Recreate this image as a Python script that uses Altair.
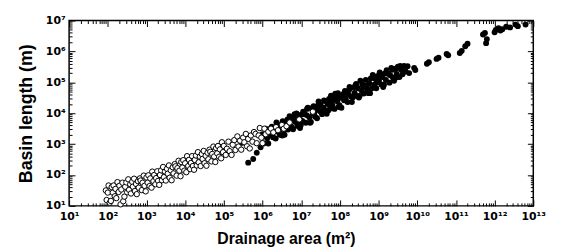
import altair as alt
import numpy as np
import pandas as pd

# log10 values
open_logA = [1.95,1.97,2.0,2.02,2.05,2.08,2.1,2.13,2.15,2.18,2.2,2.22,2.25,2.28,2.3,2.33,2.35,2.38,2.4,2.43,2.45,2.48,2.5,
             2.53,2.55,2.58,2.6,2.63,2.65,2.68,2.7,2.73,2.75,2.78,2.8,2.83,2.85,2.88,2.9,2.93,2.95,2.98,3.0,
             3.03,3.05,3.08,3.1,3.13,3.15,3.18,3.2,3.23,3.25,3.28,3.3,3.33,3.35,3.38,3.4,3.43,3.45,3.48,3.5,
             3.53,3.55,3.58,3.6,3.63,3.65,3.68,3.7,3.73,3.75,3.78,3.8,3.83,3.85,3.88,3.9,3.93,3.95,3.98,4.0,
             4.03,4.05,4.08,4.1,4.13,4.15,4.18,4.2,4.23,4.25,4.28,4.3,4.33,4.35,4.38,4.4,4.43,4.45,4.48,4.5,
             4.53,4.55,4.58,4.6,4.63,4.65,4.68,4.7,4.73,4.75,4.78,4.8,4.83,4.85,4.88,4.9,4.93,4.95,4.98,5.0,
             5.05,5.08,5.12,5.15,5.2,5.23,5.27,5.3,5.35,5.38,5.42,5.45,5.5,5.53,5.57,5.6,
             5.63,5.67,5.7,5.74,5.78,5.82,5.85,5.9,5.93,5.97,6.0,6.05,6.08,
             6.15,6.22,6.28,6.35,6.4,6.5,6.55,6.62,6.7,6.95,7.3]
open_logL = [1.50,1.19,1.43,1.66,1.10,1.16,1.61,1.43,1.66,1.31,1.55,1.25,1.77,1.45,1.65,1.05,1.53,1.75,1.15,1.30,1.62,1.76,1.44,
             1.86,1.52,1.70,1.40,1.78,1.62,1.88,1.48,1.71,1.38,1.80,1.59,1.89,1.82,1.51,1.75,1.98,1.65,1.47,1.92,
             1.75,1.99,1.64,1.89,1.59,2.11,1.80,2.00,1.70,1.90,2.12,1.81,1.68,2.00,2.15,1.83,2.26,1.93,2.11,1.82,
             2.20,2.04,2.31,1.91,2.15,1.83,2.25,2.05,2.35,2.28,1.98,2.22,2.46,2.14,1.96,2.42,2.24,2.48,2.14,2.38,
             2.09,2.61,2.29,2.49,2.19,2.39,2.61,2.29,2.17,2.49,2.63,2.31,2.74,2.41,2.59,2.29,2.68,2.52,2.78,2.38,
             2.62,2.30,2.72,2.51,2.82,2.75,2.44,2.68,2.92,2.60,2.42,2.87,2.70,2.94,2.59,2.83,2.54,3.06,2.74,2.94,
             2.65,2.85,3.08,2.77,2.65,2.98,3.13,2.81,3.25,2.92,3.11,2.82,3.21,3.06,3.33,2.93,
             3.17,2.86,3.28,3.08,3.39,3.33,3.03,3.28,3.52,3.21,3.03,3.50,3.32,
             3.4,3.5,3.38,3.55,3.45,3.62,3.5,3.58,3.7,3.8,4.05]

filled_logA = [5.46,5.63,5.76,5.85,5.95,
               6.00,6.03,6.07,6.08,6.12,6.15,6.19,6.20,6.24,6.27,6.30,6.34,6.36,6.40,6.43,6.45,6.49,6.52,6.55,6.57,
               6.61,6.64,6.66,6.70,6.73,6.76,6.79,6.81,6.85,6.88,6.90,6.94,6.97,7.00,7.03,7.05,
               7.08,7.12,7.14,7.17,7.21,7.23,7.27,7.30,7.32,7.36,7.39,7.41,7.45,7.48,7.50,7.54,7.57,7.59,7.63,7.66,
               7.68,7.72,7.75,7.77,7.81,7.84,7.86,7.90,7.93,7.95,7.99,8.02,8.04,8.08,8.11,8.13,
               8.16,8.20,8.22,8.25,8.29,8.31,8.35,8.38,8.40,8.44,8.47,8.49,8.53,8.56,8.58,8.62,8.65,8.67,8.71,8.74,
               8.76,8.80,8.83,8.85,8.89,8.92,8.94,8.98,9.01,9.03,9.07,9.10,9.12,9.16,9.19,9.21,
               9.24,9.28,9.30,9.33,9.37,9.40,9.44,9.47,9.50,9.54,9.58,9.62,9.66,9.70,9.75,
               6.51,6.58,6.68,6.75,6.83,6.92,6.99,7.07,7.15,7.25,7.34,7.43,7.52,7.61,7.70,7.79,7.88,7.97,8.06,8.15,
               8.24,8.33,8.42,8.51,8.60,8.69,8.78,8.87,8.96,9.05,9.14,9.26,9.36,9.46,9.56,
               9.79,9.92,9.95,10.25,10.3,10.5,10.55,10.76,10.8,11.1,11.15,11.24,11.3,11.7,11.75,11.78,11.8,
               12.0,12.03,12.1,12.15,12.2,12.3,12.4,12.54,12.6,12.8]
filled_logL = [3.04,2.40,2.52,2.72,2.90,
               3.32,3.02,3.27,3.50,3.19,3.02,3.49,3.30,3.56,3.22,3.47,3.18,3.70,3.40,3.61,3.30,3.51,3.74,3.43,3.30,
               3.64,3.79,3.47,3.90,3.58,3.77,3.48,3.86,3.72,3.99,3.59,3.83,3.52,3.95,3.75,4.05,
               3.99,3.69,3.94,4.18,3.87,3.69,4.16,3.99,4.23,3.89,4.14,3.84,4.38,4.07,4.27,3.97,4.18,4.41,4.10,3.98,
               4.30,4.46,4.15,4.57,4.25,4.44,4.14,4.54,4.39,4.65,4.26,4.50,4.18,4.62,4.42,4.72,
               4.66,4.36,4.61,4.85,4.54,4.36,4.83,4.66,4.90,4.56,4.81,4.51,5.05,4.74,4.94,4.64,4.85,5.08,4.77,4.65,
               4.97,5.13,4.81,5.24,4.92,5.11,4.81,5.21,5.06,5.32,4.93,5.17,4.85,5.29,5.08,5.39,
               5.29,4.99,5.23,5.47,5.16,5.05,5.44,5.27,5.51,5.17,5.42,5.26,5.53,5.35,5.52,
               3.28,3.65,3.80,3.55,3.97,3.74,3.62,3.97,4.14,3.72,4.03,4.24,4.04,4.40,4.09,4.38,4.63,4.20,4.52,4.47,
               4.76,4.51,4.95,4.56,4.90,4.89,4.65,5.16,5.00,5.20,4.92,5.27,5.41,5.16,5.53,
               5.30,5.47,5.40,5.60,5.65,5.76,5.80,5.92,5.88,5.95,6.02,6.17,6.25,6.55,6.60,6.27,6.40,
               6.62,6.70,6.75,6.68,6.72,6.80,6.78,6.87,6.82,6.87]

x_title = "Drainage area (m²)"
y_title = "Basin length (m)"
x_domain = [1e1, 1e13]
y_domain = [1e1, 1e7]

df_open = pd.DataFrame({"A": 10 ** np.array(open_logA), "L": 10 ** np.array(open_logL)})
df_filled = pd.DataFrame({"A": 10 ** np.array(filled_logA), "L": 10 ** np.array(filled_logL)})

x_ticks = [m * 10.0 ** e for e in range(1, 13) for m in range(1, 10)] + [1e13]
y_ticks = [m * 10.0 ** e for e in range(1, 7) for m in range(1, 10)] + [1e7]

is_major = "abs(log(datum.value)/LN10 - round(log(datum.value)/LN10)) < 0.001"
sup = "['⁰','¹','²','³','⁴','⁵','⁶','⁷','⁸','⁹','¹⁰','¹¹','¹²','¹³'][round(log(datum.value)/LN10)]"
label_expr = f"({is_major}) ? '10' + {sup} : ''"
tick_size = {"condition": {"test": is_major, "value": -6}, "value": -3}

def axis_main(title, ticks, orient, tpad, lpad, tsize, **kw):
    return alt.Axis(title=title, values=ticks, orient=orient, labelExpr=label_expr,
                    tickSize=tick_size, tickColor="black", tickWidth=1,
                    domain=False, grid=False, labelFont="DejaVu Sans", labelFontWeight="bold",
                    labelFontSize=11, labelColor="black", labelPadding=lpad, labelOverlap=False,
                    labelFlush=False, titleFont="Liberation Sans", titleFontWeight="bold",
                    titleFontSize=tsize, titleColor="black", titlePadding=tpad, **kw)

def axis_mirror(ticks, orient):
    return alt.Axis(title=None, values=ticks, orient=orient, labels=False,
                    tickSize=tick_size, tickColor="black", tickWidth=1, domain=False, grid=False)

xs = alt.Scale(type="log", domain=x_domain, nice=False)
ys = alt.Scale(type="log", domain=y_domain, nice=False)

filled = alt.Chart(df_filled).mark_circle(color="black", size=36, opacity=1).encode(
    x=alt.X("A:Q", scale=xs, axis=axis_main(x_title, x_ticks, "bottom", 6, 11, 16, titleX=220)),
    y=alt.Y("L:Q", scale=ys, axis=axis_main(y_title, y_ticks, "left", 10, 10, 18)),
)
opened = alt.Chart(df_open).mark_point(shape="circle", filled=False, fill="white", stroke="black",
                                        strokeWidth=1, size=30, opacity=1, fillOpacity=1).encode(
    x=alt.X("A:Q", scale=xs, axis=axis_mirror(x_ticks, "top")),
    y=alt.Y("L:Q", scale=ys, axis=axis_mirror(y_ticks, "right")),
)

chart = alt.layer(filled, opened).properties(
    width=471, height=188, autosize="none",
    padding={"left": 62, "top": 11, "right": 20, "bottom": 43},
    background="white",
).configure_view(stroke="black", strokeWidth=1.5)

chart.save("out.html", embed_options={"renderer": "svg", "actions": False})
